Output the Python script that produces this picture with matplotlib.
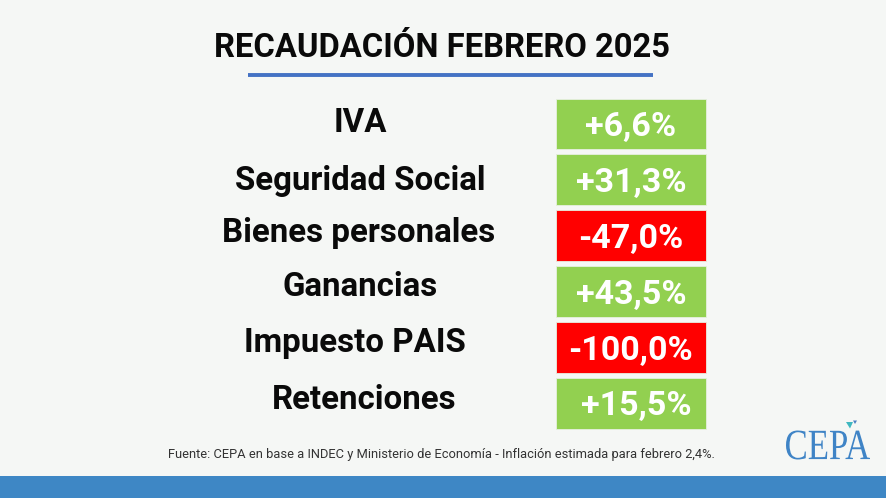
import matplotlib
matplotlib.use("Agg")
import matplotlib.pyplot as plt
from matplotlib.patches import Rectangle, PathPatch, Polygon
from matplotlib.textpath import TextPath
from matplotlib.font_manager import FontProperties
from matplotlib.transforms import Affine2D

# Data
title = "RECAUDACIÓN FEBRERO 2025"
categories = ["IVA", "Seguridad Social", "Bienes personales",
              "Ganancias", "Impuesto PAIS", "Retenciones"]
changes = [6.6, 31.3, -47.0, 43.5, -100.0, 15.5]
source = ("Fuente: CEPA en base a INDEC y Ministerio de Economía - "
          "Inflación estimada para febrero 2,4%.")

W, H = 886, 498
BG = "#f5f7f5"
GREEN = "#92d050"
RED = "#ff0000"
BLUE_BAR = "#3e87c5"

fig = plt.figure(figsize=(W / 100, H / 100), dpi=100, facecolor=BG)
ax = fig.add_axes([0, 0, 1, 1])
ax.set_xlim(0, W)
ax.set_ylim(H, 0)
ax.axis("off")
ax.set_facecolor(BG)

font = "Roboto"

# title + underline
ax.text(442, 56.5, title, ha="center", va="baseline", fontsize=23.6,
        fontweight="bold", family=font, color="#0a0a0a")
ax.plot([248, 653], [75.3, 75.3], color="#4472c4", lw=2.8,
        solid_capstyle="butt")

# rows (labels are placed a bit loosely in the original slide)
box_top = 98.5
step = 55.9
box_h = 50.8
box_x, box_w = 556, 150
label_x = [360, 360, 359, 360, 355, 364]
label_y = [120, 178, 230, 284.5, 340.5, 397]
value_dx = [0, 0, 0, 0, 0, 5]

for i, (cat, val) in enumerate(zip(categories, changes)):
    top = box_top + i * step
    color = GREEN if val >= 0 else RED
    ax.add_patch(Rectangle((box_x, top), box_w, box_h, facecolor=color,
                           edgecolor="#e6efe0", lw=0.6))
    txt = f"{val:+.1f}%".replace(".", ",")
    ax.text(box_x + box_w / 2 + value_dx[i], top + box_h / 2 + 12, txt,
            ha="center", va="baseline", fontsize=24.5, fontweight="bold",
            family=font, color="white")
    ax.text(label_x[i], label_y[i] + 11.5, cat, ha="center", va="baseline",
            fontsize=23.8, fontweight="bold", family=font, color="#0a0a0a")

# source
ax.text(168, 458.3, source, ha="left", va="baseline", fontsize=9.3,
        family=font, color="#333333")

# bottom bar
ax.add_patch(Rectangle((0, 476), W, H - 476, facecolor=BLUE_BAR,
                       edgecolor="none"))

# CEPA logo
tp = TextPath((0, 0), "CEPA", size=1,
              prop=FontProperties(family="Liberation Serif"))
ext = tp.get_extents()
x0, x1, y0, y1 = 786, 870, 430.5, 459.5
sx = (x1 - x0) / ext.width
sy = (y1 - y0) / ext.height
tr = (Affine2D().translate(-ext.x0, -ext.y0).scale(sx, -sy)
      .translate(x0, y1))
ax.add_patch(PathPatch(tr.transform_path(tp), facecolor="#3f84c6",
                       edgecolor="none"))
ax.add_patch(Polygon([[846, 422], [853, 422], [850, 428.5]],
                     facecolor="#3fb8c0", edgecolor="none"))
ax.add_patch(Polygon([[853, 420.5], [857, 420.5], [855, 424]],
                     facecolor="#4a7fc4", edgecolor="none"))

fig.savefig("out.png", dpi=100, facecolor=BG)
